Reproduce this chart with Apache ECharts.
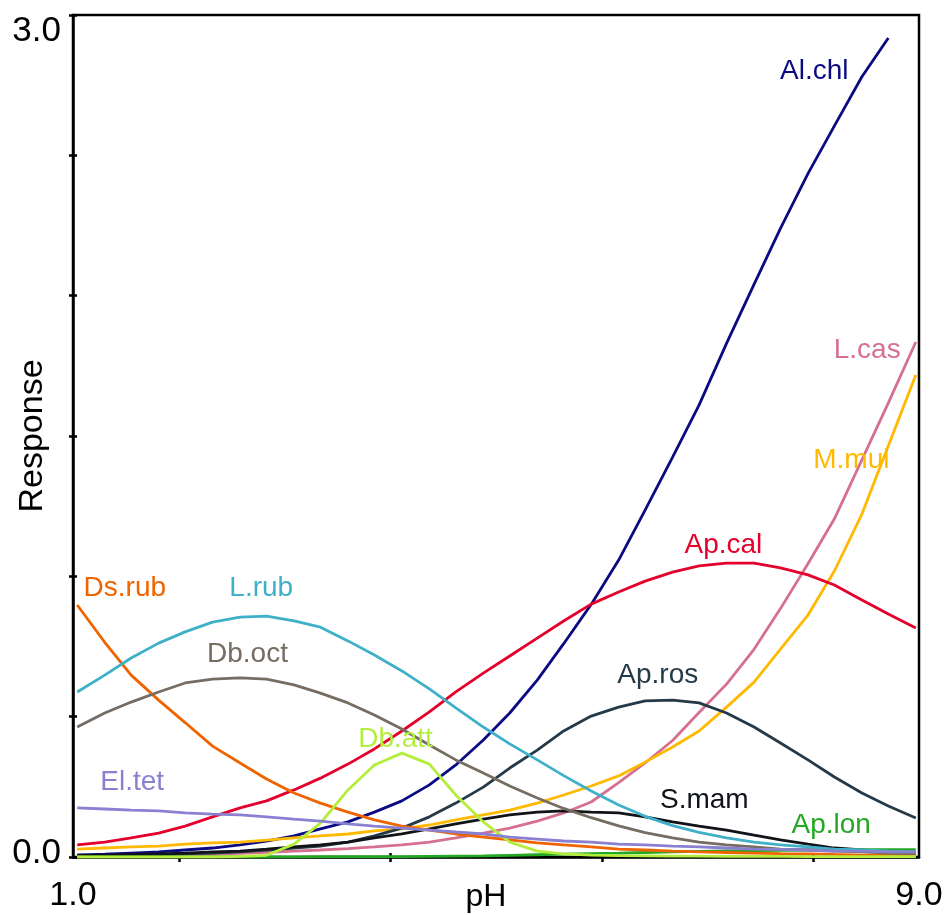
<!DOCTYPE html>
<html>
<head>
<meta charset="utf-8">
<script src="https://cdn.jsdelivr.net/npm/echarts@6/dist/echarts.min.js"></script>
<style>
  html, body { margin: 0; padding: 0; background: #fff; }
  #chart { width: 952px; height: 915px; }
</style>
</head>
<body>
<div id="chart"></div>
<script>
// ---- data ----
const pH = [1.04, 1.30, 1.55, 1.81, 2.06, 2.32, 2.58, 2.83, 3.09, 3.34, 3.60, 3.85, 4.11, 4.37, 4.62, 4.88,
            5.13, 5.39, 5.64, 5.90, 6.16, 6.41, 6.67, 6.92, 7.18, 7.44, 7.69, 7.95, 8.20, 8.46, 8.71, 8.97];

const speciesNames = ['Al.chl', 'L.cas', 'M.mul', 'Ap.cal', 'Ap.ros', 'S.mam', 'Ap.lon',
                      'Ds.rub', 'L.rub', 'Db.oct', 'Db.att', 'El.tet'];

const AlChl = [0.007, 0.010, 0.014, 0.018, 0.025, 0.032, 0.043, 0.057, 0.075, 0.100, 0.125, 0.160, 0.200, 0.257, 0.328, 0.417,
               0.513, 0.630, 0.760, 0.900, 1.058, 1.236, 1.425, 1.610, 1.830, 2.040, 2.240, 2.435, 2.605, 2.780, 2.918, null];
const LCas  = [0.002, 0.003, 0.004, 0.006, 0.008, 0.010, 0.013, 0.017, 0.021, 0.025, 0.030, 0.036, 0.043, 0.053, 0.068, 0.085,
               0.103, 0.128, 0.157, 0.196, 0.265, 0.335, 0.415, 0.515, 0.616, 0.740, 0.885, 1.045, 1.205, 1.415, 1.618, 1.835];
const MMul  = [0.028, 0.032, 0.036, 0.039, 0.046, 0.050, 0.053, 0.060, 0.068, 0.075, 0.082, 0.093, 0.100, 0.114, 0.132, 0.150,
               0.167, 0.192, 0.221, 0.253, 0.289, 0.338, 0.392, 0.449, 0.534, 0.623, 0.741, 0.862, 1.019, 1.222, 1.465, 1.717];
const ApCal = [0.043, 0.053, 0.068, 0.085, 0.110, 0.143, 0.175, 0.200, 0.239, 0.281, 0.331, 0.385, 0.449, 0.517, 0.588, 0.655,
               0.716, 0.780, 0.841, 0.901, 0.944, 0.983, 1.015, 1.037, 1.047, 1.047, 1.030, 1.005, 0.969, 0.916, 0.866, 0.816];
const ApRos = [0.004, 0.004, 0.007, 0.007, 0.011, 0.014, 0.018, 0.025, 0.032, 0.039, 0.053, 0.075, 0.103, 0.143, 0.192, 0.249,
               0.317, 0.381, 0.449, 0.502, 0.534, 0.556, 0.559, 0.549, 0.513, 0.463, 0.406, 0.346, 0.285, 0.228, 0.182, 0.139];
const SMam  = [0.007, 0.007, 0.009, 0.011, 0.014, 0.018, 0.021, 0.028, 0.036, 0.043, 0.053, 0.068, 0.082, 0.100, 0.118, 0.135,
               0.150, 0.160, 0.164, 0.160, 0.157, 0.143, 0.125, 0.110, 0.096, 0.078, 0.061, 0.046, 0.032, 0.025, 0.018, 0.014];
const ApLon = [0.000, 0.000, 0.000, 0.000, 0.000, 0.000, 0.000, 0.000, 0.000, 0.001, 0.001, 0.001, 0.001, 0.002, 0.003, 0.004,
               0.006, 0.008, 0.010, 0.012, 0.014, 0.016, 0.018, 0.020, 0.022, 0.023, 0.024, 0.025, 0.025, 0.026, 0.026, 0.026];
const DsRub = [0.898, 0.765, 0.648, 0.559, 0.479, 0.395, 0.335, 0.278, 0.228, 0.192, 0.160, 0.132, 0.110, 0.096, 0.082, 0.071,
               0.061, 0.050, 0.043, 0.036, 0.028, 0.025, 0.021, 0.018, 0.016, 0.014, 0.012, 0.011, 0.009, 0.007, 0.007, 0.005];
const LRub  = [0.588, 0.648, 0.709, 0.762, 0.802, 0.837, 0.855, 0.858, 0.841, 0.819, 0.770, 0.720, 0.663, 0.599, 0.531, 0.463,
               0.403, 0.346, 0.290, 0.235, 0.185, 0.145, 0.112, 0.088, 0.068, 0.053, 0.043, 0.036, 0.028, 0.025, 0.021, 0.018];
const DbOct = [0.463, 0.513, 0.552, 0.588, 0.620, 0.634, 0.638, 0.634, 0.613, 0.584, 0.549, 0.506, 0.456, 0.399, 0.346, 0.299,
               0.253, 0.210, 0.173, 0.140, 0.111, 0.087, 0.068, 0.053, 0.043, 0.036, 0.028, 0.025, 0.021, 0.018, 0.014, 0.012];
const DbAtt = [0.000, 0.000, 0.000, 0.000, 0.000, 0.000, 0.002, 0.006, 0.046, 0.121, 0.239, 0.328, 0.370, 0.331, 0.221, 0.125,
               0.053, 0.021, 0.011, 0.007, 0.005, 0.004, 0.003, 0.003, 0.002, 0.002, 0.002, 0.001, 0.001, 0.001, 0.001, 0.001];
const ElTet = [0.175, 0.171, 0.167, 0.164, 0.157, 0.153, 0.150, 0.143, 0.135, 0.128, 0.118, 0.110, 0.103, 0.096, 0.089, 0.082,
               0.071, 0.064, 0.057, 0.053, 0.046, 0.043, 0.039, 0.036, 0.032, 0.028, 0.027, 0.025, 0.021, 0.021, 0.018, 0.018];

const seriesValues = [AlChl, LCas, MMul, ApCal, ApRos, SMam, ApLon, DsRub, LRub, DbOct, DbAtt, ElTet];

// tick values
const xTickValues = [2, 4, 6, 8];
const xLabelValues = [1, 9];

// ---- styles / label anchors (data coordinates) ----
const colors = ['#0a0a82', '#d6708f', '#ffb900', '#e4002b', '#243a48', '#101418', '#22a822',
                '#f06400', '#3fb0c8', '#766c62', '#b4ee3c', '#8a80d2'];
const labelAnchors = [[8.01, 2.80], [8.51, 1.806], [8.36, 1.415], [7.15, 1.112], [6.53, 0.648], [6.97, 0.203], [8.17, 0.113],
                      [1.49, 0.958], [2.78, 0.958], [2.65, 0.723], [4.05, 0.420], [1.56, 0.267]];

const FONT = '"Liberation Sans", Arial, Helvetica, sans-serif';

const series = speciesNames.map((name, i) => ({
  name: name,
  type: 'line',
  data: pH.map((x, k) => [x, seriesValues[i][k]]),
  showSymbol: false,
  symbol: 'none',
  connectNulls: false,
  lineStyle: { color: colors[i], width: 2.8 },
  itemStyle: { color: colors[i] },
  z: 2,
  silent: true,
  markPoint: {
    silent: true,
    symbol: 'circle',
    symbolSize: 1,
    itemStyle: { color: 'rgba(0,0,0,0)' },
    label: {
      show: true,
      position: 'inside',
      formatter: name,
      color: colors[i],
      fontSize: 28,
      fontFamily: FONT
    },
    data: [{ coord: labelAnchors[i] }]
  }
}));

const chart = echarts.init(document.getElementById('chart'), null, { renderer: 'canvas' });

chart.setOption({
  animation: false,
  backgroundColor: '#ffffff',
  grid: {
    left: 73, right: 33, top: 15, bottom: 58,
    show: true,
    borderColor: '#000',
    borderWidth: 2.5,
    containLabel: false,
    outerBoundsMode: 'none'
  },
  xAxis: [{
    type: 'value',
    min: 1, max: 9,
    name: 'pH',
    nameLocation: 'middle',
    nameGap: 24,
    nameMoveOverlap: false,
    nameTextStyle: { fontSize: 32, color: '#000', fontFamily: FONT, verticalAlign: 'top', padding: [0, 20, 0, 0] },
    axisLine: { show: true, lineStyle: { color: '#000', width: 2.5 } },
    axisTick: { show: true, length: 5, lineStyle: { color: '#000', width: 2.5 }, customValues: xTickValues },
    axisLabel: {
      show: true, fontSize: 34, color: '#000', fontFamily: FONT, margin: 22,
      customValues: xLabelValues,
      formatter: v => v.toFixed(1)
    },
    splitLine: { show: false }
  }, {
    type: 'value',
    min: 1, max: 9,
    position: 'bottom',
    axisLine: { show: false },
    axisTick: { show: true, inside: true, length: 4, lineStyle: { color: '#000', width: 2.5 }, customValues: xTickValues },
    axisLabel: { show: false },
    splitLine: { show: false }
  }],
  yAxis: [{
    type: 'value',
    min: 0, max: 3, interval: 0.5,
    name: 'Response',
    nameLocation: 'middle',
    nameGap: 23,
    nameRotate: 90,
    nameMoveOverlap: false,
    nameTextStyle: { fontSize: 34, color: '#000', fontFamily: FONT },
    axisLine: { show: true, lineStyle: { color: '#000', width: 2.5 } },
    axisTick: { show: true, length: 4, lineStyle: { color: '#000', width: 2.5 } },
    axisLabel: {
      show: true, fontSize: 35, color: '#000', fontFamily: FONT, margin: 12,
      formatter: v => {
        if (v === 3) return '{top|3.0}';
        if (v === 0) return '{bot|0.0}';
        return '';
      },
      rich: {
        top: { fontSize: 35, color: '#000', fontFamily: FONT, padding: [32, 0, 0, 0] },
        bot: { fontSize: 35, color: '#000', fontFamily: FONT, padding: [0, 0, 8, 0] }
      }
    },
    splitLine: { show: false }
  }, {
    type: 'value',
    min: 0, max: 3, interval: 0.5,
    position: 'left',
    axisLine: { show: false },
    axisTick: { show: true, inside: true, length: 4, lineStyle: { color: '#000', width: 2.5 } },
    axisLabel: { show: false },
    splitLine: { show: false }
  }],
  series: series
});
</script>
</body>
</html>
